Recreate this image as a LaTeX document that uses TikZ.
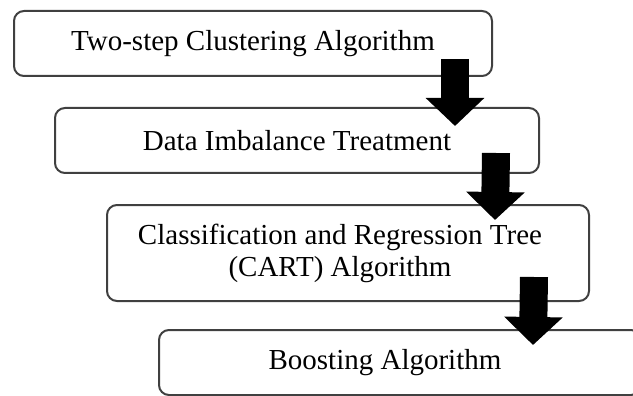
\documentclass[tikz,border=0pt]{standalone}
\usepackage{fontspec}
\setmainfont{Liberation Serif}
\usetikzlibrary{arrows.meta}
\tikzset{
  stagebox/.style={draw=black!75, line width=2pt, rounded corners=10pt, fill=white,
    inner sep=0pt, outer sep=0pt, align=center, font=\fontsize{29}{32}\selectfont},
  blockarrow/.style={line width=28pt, black, -{Triangle[width=57pt,length=28pt]}}
}
\begin{document}
\begin{tikzpicture}[x=1pt,y=-1pt]
\useasboundingbox (0,0) rectangle (633,396);
\node[stagebox, minimum width=478pt, minimum height=65pt] (b1) at (253,43.5) {Two-step Clustering Algorithm};
\node[stagebox, minimum width=484pt, minimum height=65pt] (b2) at (297,140.5) {Data Imbalance Treatment};
\node[stagebox, minimum width=482pt, minimum height=96pt] (b3) at (348,253) {\hspace*{-16pt}Classification and Regression Tree\\\hspace*{-16pt}(CART) Algorithm};
\node[stagebox, minimum width=482pt, minimum height=65pt] (b4) at (400,362.5) {\hspace*{-30pt}Boosting Algorithm};
\draw[blockarrow] ([xshift=-37pt,yshift=17pt]b1.south east) -- ([xshift=400pt,yshift=-18pt]b2.north west);
\draw[blockarrow] ([xshift=-43pt,yshift=20pt]b2.south east) -- ([xshift=388pt,yshift=-15pt]b3.north west);
\draw[blockarrow] ([xshift=-55pt,yshift=24pt]b3.south east) -- ([xshift=374pt,yshift=-15pt]b4.north west);
\end{tikzpicture}
\end{document}
